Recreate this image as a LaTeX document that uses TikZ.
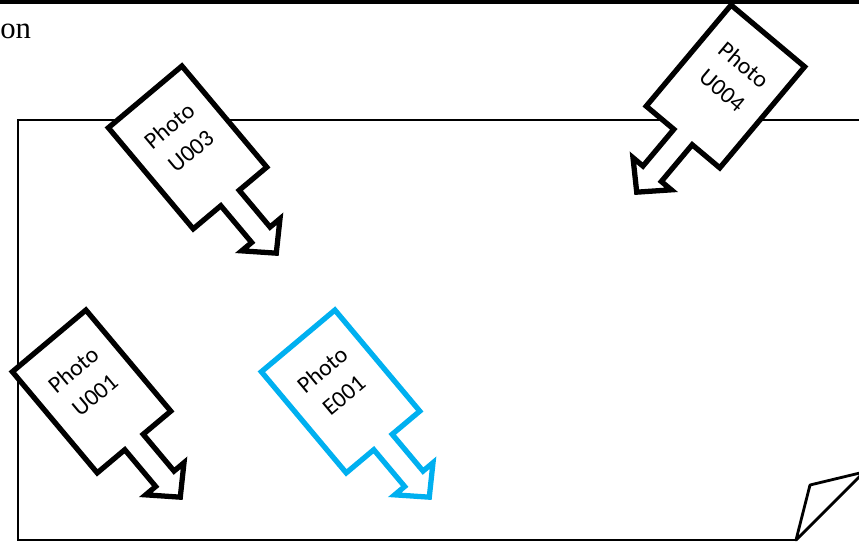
\documentclass[tikz,border=0pt]{standalone}
\usepackage{fontspec}
\setmainfont{Liberation Serif}
\newfontfamily\calibri{Carlito}
\definecolor{photoblue}{HTML}{00B0F0}

\begin{document}
\begin{tikzpicture}[x=0.02cm,y=0.02cm,
    page/.style={line width=1.6pt},
    callout/.style={draw,line width=3pt,fill=white,miter limit=10},
    photolabel/.style={text=black,transform shape,align=center,inner sep=0pt,
      font=\calibri\fontsize{13.5}{19}\selectfont},
    photo/.pic={
      % sign with its arrow pointing down, arrow root at the origin
      \draw[callout] (-48,0) -- (-12,0) -- (-12,-48) -- (-25,-48) -- (0,-72)
        -- (25,-48) -- (12,-48) -- (12,0) -- (48,0) -- (48,132) -- (-48,132) -- cycle;
      \node[photolabel] (label) at (0,78) {Photo\\#1};
    }]
  \useasboundingbox (0,0) rectangle (859,-542);
  \clip (0,0) rectangle (859,-542);
  % frame line and cut-off caption
  \draw[line width=1.8pt] (0,-2) -- (859,-2);
  \node[anchor=base west,inner sep=0pt,font=\fontsize{17.5}{20}\selectfont] (caption) at (0,-38) {on};
  % the page with its curled corner
  \draw[page] (900,-120) -- (18,-120) -- (18,-540) -- (796,-540);
  \draw[page,line join=round] (796,-540) -- (810,-485) -- (864,-472) -- cycle;
  % photo positions
  \pic (u003) [rotate=40] at (230,-198) {photo=U003};
  \pic (u001) [rotate=40] at (134,-442) {photo=U001};
  \pic (e001) [rotate=40,photoblue] at (383,-442) {photo=E001};
  \pic (u004) [rotate=-40] at (683,-137) {photo=U004};
\end{tikzpicture}
\end{document}
